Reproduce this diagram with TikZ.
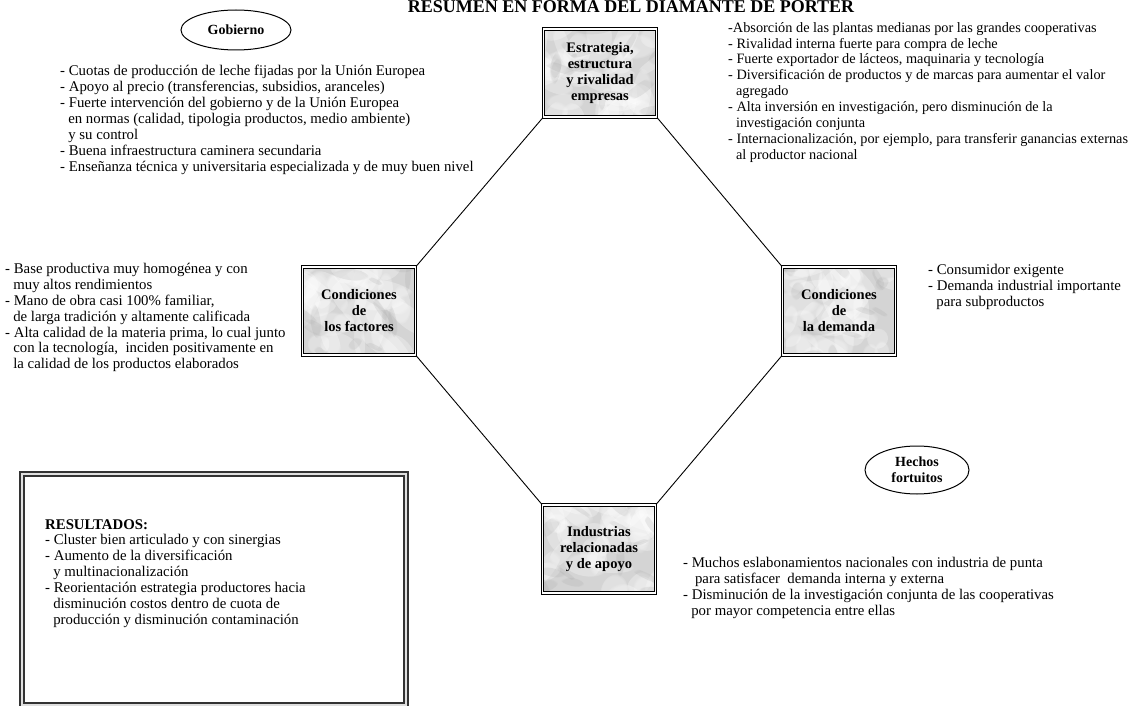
\documentclass[tikz,border=0pt]{standalone}
\usepackage{fontspec}
\setmainfont{Liberation Serif}
\usetikzlibrary{shapes.geometric,fadings}

% indentation for continuation lines of a bullet
\newcommand\ind{\hspace*{0.55em}}

% cloudy marble texture drawn inside a box
\newcommand\marbletexture{%
  \fill[gray!34] (path picture bounding box.south west) rectangle (path picture bounding box.north east);
  \foreach \k in {1,...,40}{%
    \pgfmathsetmacro\dx{60*rand}\pgfmathsetmacro\dy{48*rand}%
    \pgfmathsetmacro\rx{10+20*rnd}\pgfmathsetmacro\ry{5+9*rnd}%
    \pgfmathsetmacro\an{180*rnd}%
    \fill[white,path fading=circle with fuzzy edge 20 percent,fill opacity=.3]
      ([shift={(\dx,\dy)}]path picture bounding box.center)
      circle[x radius=\rx pt,y radius=\ry pt,rotate=\an];
  }%
  \foreach \k in {1,...,14}{%
    \pgfmathsetmacro\dx{58*rand}\pgfmathsetmacro\dy{46*rand}%
    \pgfmathsetmacro\rx{8+12*rnd}\pgfmathsetmacro\ry{2+4*rnd}%
    \pgfmathsetmacro\an{180*rnd}%
    \fill[gray!70,path fading=circle with fuzzy edge 20 percent,fill opacity=.2]
      ([shift={(\dx,\dy)}]path picture bounding box.center)
      circle[x radius=\rx pt,y radius=\ry pt,rotate=\an];
  }%
}

\begin{document}
\begin{tikzpicture}[x=1pt,y=-1pt,
  every node/.style={inner sep=0pt},
  titletext/.style={anchor=base,font=\bfseries\fontsize{18}{20}\selectfont},
  listtext/.style={anchor=north west,align=left,font=\fontsize{14.8}{15.9}\selectfont},
  oval/.style={ellipse,draw,line width=1pt,align=center,
    font=\bfseries\fontsize{14}{16}\selectfont},
  marblebox/.style={rectangle,draw=black,line width=1.1pt,double=white,
    double distance=1.6pt,minimum width=113pt,minimum height=88pt,align=center,
    font=\bfseries\fontsize{14.5}{16}\selectfont,
    path picture={\marbletexture}},
  resbox/.style={rectangle,draw=black!80,line width=1.8pt,double=gray!25,
    double distance=1.6pt,anchor=north west,minimum width=384pt,minimum height=231pt},
  link/.style={line width=0.9pt}
]
\pgfmathsetseed{4213}
\useasboundingbox (0,0) rectangle (1143,706);
\clip (0,0) rectangle (1143,706);

% heading
\node[titletext] (title) at (631,13) {RESUMEN EN FORMA DEL DIAMANTE DE PORTER};

% the four corners of the diamond
\node[marblebox] (est) at (600,73) {Estrategia,\\estructura\\y rivalidad\\empresas};
\node[marblebox] (fac) at (359,311) {Condiciones\\de\\los factores};
\node[marblebox] (dem) at (839,311) {Condiciones\\de\\la demanda};
\node[marblebox] (ind) at (599,549) {Industrias\\relacionadas\\y de apoyo};

% sides of the diamond
\draw[link] (fac.north east) -- (est.south west);
\draw[link] (est.south east) -- (dem.north west);
\draw[link] (fac.south east) -- (ind.north west);
\draw[link] (dem.south west) -- (ind.north east);

% external influences
\node[oval,minimum width=110pt,minimum height=40pt] (gob) at (236,30) {Gobierno};
\node[oval,minimum width=104pt,minimum height=48pt] (hec) at (917,470) {Hechos\\fortuitos};

% descriptions
\node[listtext] (goblist) at (60,65) {%
- Cuotas de producción de leche fijadas por la Unión Europea\\
- Apoyo al precio (transferencias, subsidios, aranceles)\\
- Fuerte intervención del gobierno y de la Unión Europea\\
\ind en normas (calidad, tipologia productos, medio ambiente)\\
\ind y su control\\
- Buena infraestructura caminera secundaria\\
- Enseñanza técnica y universitaria especializada y de muy buen nivel};

\node[listtext,font=\fontsize{14.3}{15.9}\selectfont] (estlist) at (728,22) {%
-Absorción de las plantas medianas por las grandes cooperativas\\
- Rivalidad interna fuerte para compra de leche\\
- Fuerte exportador de lácteos, maquinaria y tecnología\\
- Diversificación de productos y de marcas para aumentar el valor\\
\ind agregado\\
- Alta inversión en investigación, pero disminución de la\\
\ind investigación conjunta\\
- Internacionalización, por ejemplo, para transferir ganancias externas\\
\ind al productor nacional};

\node[listtext] (faclist) at (5,263) {%
- Base productiva muy homogénea y con\\
\ind muy altos rendimientos\\
- Mano de obra casi 100\% familiar,\\
\ind de larga tradición y altamente calificada\\
- Alta calidad de la materia prima, lo cual junto\\
\ind con la tecnología,\ \ inciden positivamente en\\
\ind la calidad de los productos elaborados};

\node[listtext] (demlist) at (928,264) {%
- Consumidor exigente\\
- Demanda industrial importante\\
\ind para subproductos};

\node[listtext] (indlist) at (683,557) {%
- Muchos eslabonamientos nacionales con industria de punta\\
\ind\ para satisfacer\ \ demanda interna y externa\\
- Disminución de la investigación conjunta de las cooperativas\\
\ind por mayor competencia entre ellas};

% results frame
\node[resbox] (res) at (21,473) {};
\node[listtext] (reslist) at (45,519) {%
\textbf{RESULTADOS:}\\
- Cluster bien articulado y con sinergias\\
- Aumento de la diversificación\\
\ind y multinacionalización\\
- Reorientación estrategia productores hacia\\
\ind disminución costos dentro de cuota de\\
\ind producción y disminución contaminación};
\end{tikzpicture}
\end{document}
